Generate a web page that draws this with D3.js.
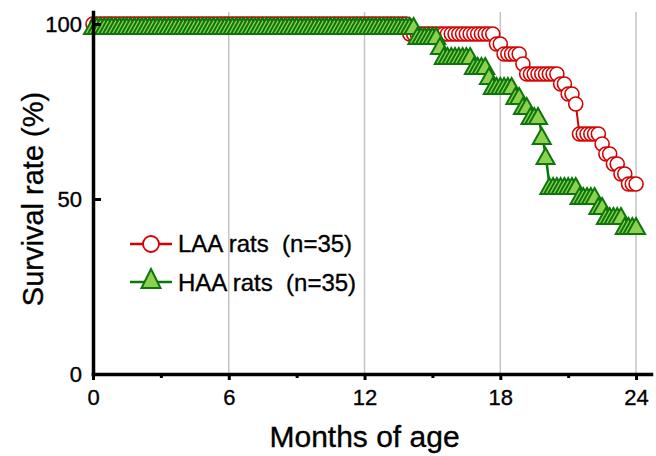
<!DOCTYPE html>
<html>
<head>
<meta charset="utf-8">
<script src="https://cdn.jsdelivr.net/npm/d3@7"></script>
<style>
body { margin: 0; background: #fff; }
text { font-family: "Liberation Sans", Arial, sans-serif; fill: #000; stroke: #000; stroke-width: 0.35px; white-space: pre; }
</style>
</head>
<body>
<script>
// rats per group, one sample every 1/6 month
var nRats = 35;
var sampleStep = 1 / 6;

// rats alive at each sample, one row per month of age
var laaAlive = [
  35,35,35,35,35,35, // 0
  35,35,35,35,35,35, // 1
  35,35,35,35,35,35, // 2
  35,35,35,35,35,35, // 3
  35,35,35,35,35,35, // 4
  35,35,35,35,35,35, // 5
  35,35,35,35,35,35, // 6
  35,35,35,35,35,35, // 7
  35,35,35,35,35,35, // 8
  35,35,35,35,35,35, // 9
  35,35,35,35,35,35, // 10
  35,35,35,35,35,35, // 11
  35,35,35,35,35,35, // 12
  35,35,35,35,35,35, // 13
  34,34,34,34,34,34, // 14
  34,34,34,34,34,34, // 15
  34,34,34,34,34,34, // 16
  34,34,34,34,34,33, // 17
  33,32,32,32,32,32, // 18
  31,30,30,30,30,30, // 19
  30,30,30,30,29,29, // 20
  28,28,27,24,24,24, // 21
  24,24,24,23,22,22, // 22
  21,21,20,20,19,19, // 23
  19                 // 24
];

var haaAlive = [
  35,35,35,35,35,35, // 0
  35,35,35,35,35,35, // 1
  35,35,35,35,35,35, // 2
  35,35,35,35,35,35, // 3
  35,35,35,35,35,35, // 4
  35,35,35,35,35,35, // 5
  35,35,35,35,35,35, // 6
  35,35,35,35,35,35, // 7
  35,35,35,35,35,35, // 8
  35,35,35,35,35,35, // 9
  35,35,35,35,35,35, // 10
  35,35,35,35,35,35, // 11
  35,35,35,35,35,35, // 12
  35,35,35,35,35,35, // 13
  35,35,34,34,34,34, // 14
  34,34,33,32,32,32, // 15
  32,32,32,32,32,31, // 16
  31,31,31,30,29,29, // 17
  29,29,29,29,28,28, // 18
  27,27,26,26,26,24, // 19
  22,19,19,19,19,19, // 20
  19,19,19,18,18,18, // 21
  18,18,17,17,16,16, // 22
  16,16,16,15,15,15, // 23
  15                 // 24
];

var seriesNames = ["LAA rats  (n=35)", "HAA rats  (n=35)"];
var xMajor = [0, 6, 12, 18, 24];
var xMinor = [3, 9, 15, 21];
var yTicks = [0, 50, 100];

var width = 656, height = 456;
var red = "#d40000", darkGreen = "#0b760b", lightGreen = "#8fd14f";

var svg = d3.select("body")
            .append("svg")
            .attr('width', width)
            .attr('height', height);

// scales
var x = d3.scaleLinear().domain([0, 24.66]).range([93, 651]);
var y = d3.scaleLinear().domain([0, 103.43]).range([374, 12]);

function toPoints(alive){
    return alive.map(function(d, i){ return {t: i * sampleStep, v: d / nRats * 100}; });
}
var laa = toPoints(laaAlive),
    haa = toPoints(haaAlive);

// vertical grid
svg.append("g")
   .selectAll("line")
   .data(xMajor.slice(1))
   .enter()
   .append("line")
   .attr('x1', function(d){ return x(d); })
   .attr('x2', function(d){ return x(d); })
   .attr('y1', y(0))
   .attr('y2', y.range()[1])
   .style('stroke', "#c4c4c4")
   .style('stroke-width', "1.5px");

var line = d3.line()
             .x(function(d){ return x(d.t); })
             .y(function(d){ return y(d.v); });

// triangle marker: up = apex above point, down = base below point
function triangle(cx, cy, up, down, half){
    return "M" + cx + "," + (cy - up) + "L" + (cx + half) + "," + (cy + down) + "L" + (cx - half) + "," + (cy + down) + "Z";
}

// LAA
svg.append("path")
   .datum(laa)
   .attr('d', line)
   .style('fill', "none")
   .style('stroke', red)
   .style('stroke-width', "2px");

svg.append("g")
   .selectAll("circle")
   .data(laa)
   .enter()
   .append("circle")
   .attr('cx', function(d){ return x(d.t); })
   .attr('cy', function(d){ return y(d.v); })
   .attr('r', 7)
   .style('fill', "#fff")
   .style('stroke', red)
   .style('stroke-width', "1.6px");

// HAA
svg.append("path")
   .datum(haa)
   .attr('d', line)
   .style('fill', "none")
   .style('stroke', darkGreen)
   .style('stroke-width', "2.5px");

svg.append("g")
   .selectAll("path")
   .data(haa)
   .enter()
   .append("path")
   .attr('d', function(d){ return triangle(x(d.t), y(d.v), 6, 10, 9); })
   .style('fill', lightGreen)
   .style('stroke', darkGreen)
   .style('stroke-width', "2px");

// axes
var xAxis = svg.append("g")
   .attr('transform', "translate(0," + y(0) + ")")
   .call(d3.axisBottom(x).tickValues(xMajor).tickSize(6).tickSizeOuter(0).tickPadding(9));

var xMinorAxis = svg.append("g")
   .attr('transform', "translate(0," + y(0) + ")")
   .call(d3.axisBottom(x).tickValues(xMinor).tickSize(4).tickSizeOuter(0).tickFormat(""));
xMinorAxis.select("path.domain").remove();

var yAxis = svg.append("g")
   .attr('transform', "translate(" + x(0) + ",0)")
   .call(d3.axisLeft(y).tickValues(yTicks).tickSize(-8).tickSizeOuter(0).tickPadding(11));

svg.selectAll("path.domain")
   .style('stroke', "#000")
   .style('stroke-width', "3.5px")
   .style('stroke-linecap', "square");
svg.selectAll(".tick line")
   .style('stroke', "#000")
   .style('stroke-width', "3px");
svg.selectAll(".tick text")
   .style('font-size', "22px")
   .style('font-family', "'Liberation Sans', Arial, sans-serif")
   .style('stroke', "#000")
   .style('stroke-width', "0.35px");

// axis titles
svg.append("text")
   .text("Survival rate (%)")
   .attr('transform', "translate(33," + y(50) + ") rotate(-90)")
   .attr('text-anchor', "middle")
   .attr('dy', "0.35em")
   .style('font-size', "29px");

svg.append("text")
   .text("Months of age")
   .attr('x', x(12))
   .attr('y', 447)
   .attr('text-anchor', "middle")
   .style('font-size', "30px");

// legend
var legend = svg.append("g").attr('transform', "translate(130,244)");

legend.append("line")
      .attr('x1', 0).attr('x2', 42).attr('y1', 0).attr('y2', 0)
      .style('stroke', red).style('stroke-width', "2.5px");
legend.append("circle")
      .attr('cx', 21).attr('cy', 0).attr('r', 8)
      .style('fill', "#fff").style('stroke', red).style('stroke-width', "1.8px");
legend.append("text")
      .text(seriesNames[0])
      .attr('x', 48).attr('y', 0).attr('dy', "0.35em")
      .style('font-size', "24px");

legend.append("line")
      .attr('x1', 0).attr('x2', 42).attr('y1', 38).attr('y2', 38)
      .style('stroke', darkGreen).style('stroke-width', "2.5px");
legend.append("path")
      .attr('d', triangle(21, 38, 13, 6, 9.5))
      .style('fill', lightGreen).style('stroke', darkGreen).style('stroke-width', "2px");
legend.append("text")
      .text(seriesNames[1])
      .attr('x', 48).attr('y', 39).attr('dy', "0.35em")
      .style('font-size', "24px");
</script>
</body>
</html>
